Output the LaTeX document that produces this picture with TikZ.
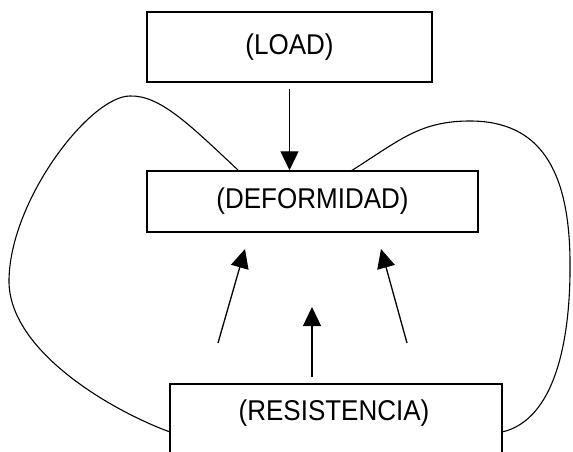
\documentclass[tikz,border=0pt]{standalone}
\usepackage{fontspec}
\setmainfont{Liberation Sans}
\usetikzlibrary{arrows.meta}
\begin{document}
\begin{tikzpicture}[x=1pt,y=-1pt,
  box/.style={draw, line width=1.5pt, rectangle, inner sep=0pt, font=\fontsize{26}{28}\selectfont},
  arr/.style={line width=1.3pt, -{Triangle[length=19pt,width=18pt]}},
  loop/.style={line width=1.1pt}]
\useasboundingbox (0,0) rectangle (573,451);
\node[box, minimum width=285pt, minimum height=70pt] (load) at (289.5,47) {\scalebox{1}[1.1]{(LOAD)}};
\node[box, minimum width=331pt, minimum height=61pt] (def) at (312.5,201.5) {\raisebox{-2pt}{\scalebox{1}[1.1]{(DEFORMIDAD)}}};
\node[box, minimum width=332pt, minimum height=100pt] (res) at (336,434) {};
\node[font=\fontsize{26}{28}\selectfont] (restext) at (334,413) {\scalebox{1}[1.1]{(RESISTENCIA)}};
\draw[arr, shorten <=6pt] (load.south) -- (def.north -| load.south);
\coordinate (a1s) at (218,343);
\coordinate (a1e) at (245,249);
\coordinate (a2s) at (312,377);
\coordinate (a2e) at (312,307);
\coordinate (a3s) at (407,343);
\coordinate (a3e) at (381,249);
\draw[arr] (a1s) -- (a1e);
\draw[arr] (a2s) -- (a2e);
\draw[arr] (a3s) -- (a3e);
\coordinate (l1) at (239,171);
\coordinate (l2) at (170,432);
\coordinate (r1) at (351,171);
\coordinate (r2) at (502,432);
\draw[loop] (l1) .. controls (190,125) and (160,95) .. (130,96)
  .. controls (90,96) and (10,200) .. (9,280)
  .. controls (8,350) and (110,410) .. (l2);
\draw[loop] (r1) .. controls (400,140) and (420,121) .. (470,121)
  .. controls (540,121) and (569,170) .. (570,260)
  .. controls (571,340) and (555,420) .. (r2);
\end{tikzpicture}
\end{document}
